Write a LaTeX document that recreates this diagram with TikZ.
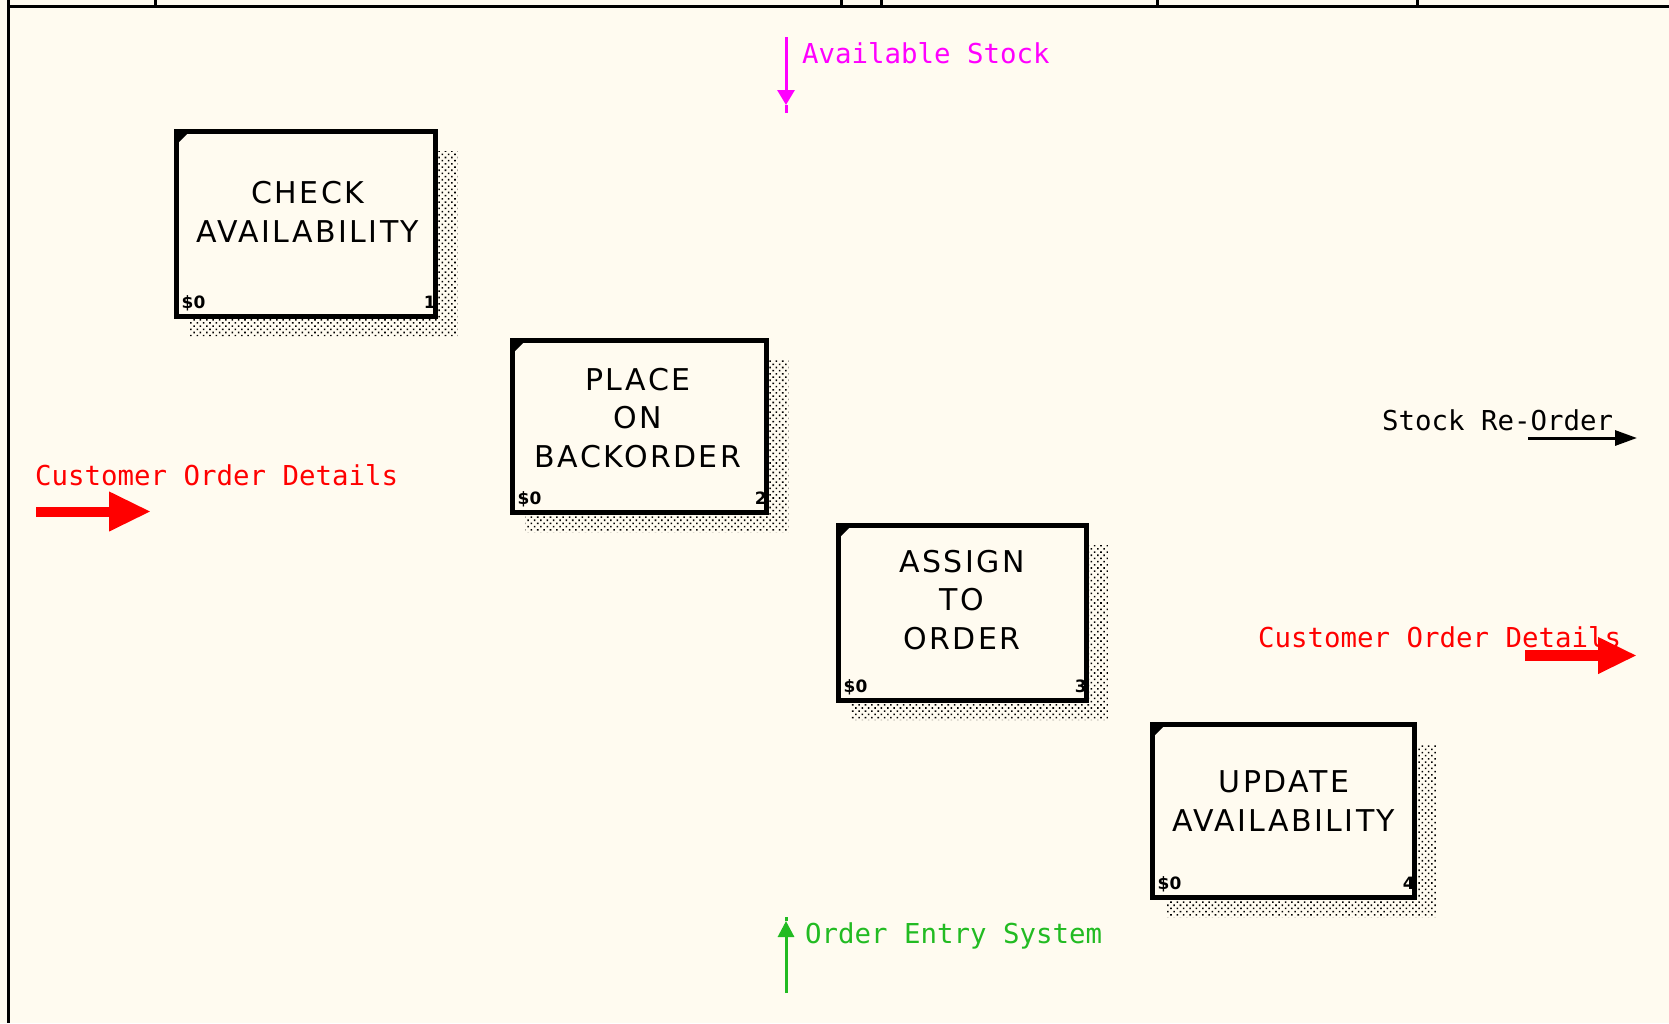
\documentclass[tikz,border=0pt]{standalone}
\usepackage{fontspec}
\setmainfont{DejaVu Sans}
\newfontfamily\boxfont[LetterSpace=8]{DejaVu Sans}
\newfontfamily\lblfont{DejaVu Sans Mono}
\usetikzlibrary{arrows.meta,patterns.meta,calc}
\definecolor{bgcream}{RGB}{255,251,240}
\definecolor{oesgreen}{RGB}{34,187,34}
\definecolor{asmag}{RGB}{255,0,255}
\definecolor{codred}{RGB}{255,0,0}
\newcommand\actshadow[1]{%
  \fill[hatchfill] ([shift={(0,22)}]#1.north east) -- ([shift={(19.5,22)}]#1.north east)
    -- ([shift={(19.5,17)}]#1.south east) -- ([shift={(15.5,17)}]#1.south west)
    -- ([shift={(15.5,0)}]#1.south west) -- (#1.south east) -- cycle;
  \fill ([shift={(2.5,2.5)}]#1.north west) -- ++(13,0) -- ++(-13,13) -- cycle;}
\begin{document}
\begin{tikzpicture}[x=1pt,y=-1pt,
  actbox/.style={draw=black,line width=5pt,fill=bgcream,inner sep=0pt},
  acttext/.style={font=\boxfont\fontsize{30}{38.5}\selectfont,align=center,inner sep=0pt},
  tinylbl/.style={font=\bfseries\fontsize{17}{17}\selectfont,inner sep=0pt},
  arrlbl/.style={font=\lblfont\fontsize{27.4}{30}\selectfont,inner sep=0pt,anchor=base west},
  hatchfill/.style={pattern={Dots[distance=4.5pt,radius=1.1pt,angle=45]},pattern color=black},
  thinarrow/.style={line width=3pt},
]
\useasboundingbox (0,0) rectangle (1669,1023);
\fill[bgcream] (0,0) rectangle (1669,1023);

% frame
\draw[line width=3pt] (8.7,0) -- (8.7,1023);
\draw[line width=2.6pt] (7.2,6.2) -- (1669,6.2);
\foreach \tx in {155.5,841,881,1157,1417} \draw[line width=3pt] (\tx,0) -- (\tx,6.2);

% activity boxes
\node[actbox,minimum width=259pt,minimum height=185pt] (b1) at (306,224) {};
\node[actbox,minimum width=254pt,minimum height=172pt] (b2) at (639.5,426.5) {};
\node[actbox,minimum width=248pt,minimum height=175pt] (b3) at (962.5,613) {};
\node[actbox,minimum width=262pt,minimum height=173pt] (b4) at (1283.5,811) {};
\actshadow{b1}\actshadow{b2}\actshadow{b3}\actshadow{b4}

\node[acttext] (t1) at (308,212) {CHECK\\AVAILABILITY};
\node[acttext] (t2) at (638,418) {PLACE\\ON\\BACKORDER};
\node[acttext] (t3) at (962,600) {ASSIGN\\TO\\ORDER};
\node[acttext] (t4) at (1284,801) {UPDATE\\AVAILABILITY};

\foreach \b/\n in {b1/1,b2/2,b3/3,b4/4}{
  \node[tinylbl,anchor=base west] (c\n) at ([shift={(7.5,-10.5)}]\b.south west) {\$0};
  \node[tinylbl,anchor=base east] (n\n) at ([shift={(-2,-10.5)}]\b.south east) {\n};
}

% Available Stock (control, top)
\coordinate (asTop) at (786,37);
\coordinate (asTip) at (786,105);
\coordinate (asEnd) at (786,113);
\draw[asmag,thinarrow,-{Triangle[length=15pt,width=17pt]}] (asTop) -- (asTip);
\draw[asmag,thinarrow] (asTip) -- (asEnd);
\node[arrlbl,text=asmag] (asl) at (802,63) {Available Stock};

% Order Entry System (mechanism, bottom)
\coordinate (oeBot) at (786,993);
\coordinate (oeTip) at (786,921);
\coordinate (oeTop) at (786,917);
\draw[oesgreen,thinarrow,-{Triangle[length=16pt,width=16pt]}] (oeBot) -- (oeTip);
\draw[oesgreen,thinarrow] (oeTip) -- (oeTop);
\node[arrlbl,text=oesgreen] (oel) at (805,943) {Order Entry System};

% Customer Order Details (input, left)
\node[arrlbl,text=codred] (cinl) at (35,485) {Customer Order Details};
\coordinate (cinA) at (36,511.5);
\coordinate (cinB) at (151,511.5);
\draw[codred,line width=10pt,-{Triangle[length=42pt,width=37pt]}] (cinA) -- (cinB);

% Stock Re-Order (output)
\node[arrlbl,text=black] (srl) at (1382,430) {Stock Re-Order};
\coordinate (srA) at (1528,438);
\coordinate (srB) at (1637,438);
\draw[black,thinarrow,-{Triangle[length=22pt,width=15pt]}] (srA) -- (srB);

% Customer Order Details (output, right)
\node[arrlbl,text=codred] (coutl) at (1258,647) {Customer Order Details};
\coordinate (coutA) at (1525,655.5);
\coordinate (coutB) at (1637,655.5);
\draw[codred,line width=11pt,-{Triangle[length=39pt,width=34pt]}] (coutA) -- (coutB);
\end{tikzpicture}
\end{document}
